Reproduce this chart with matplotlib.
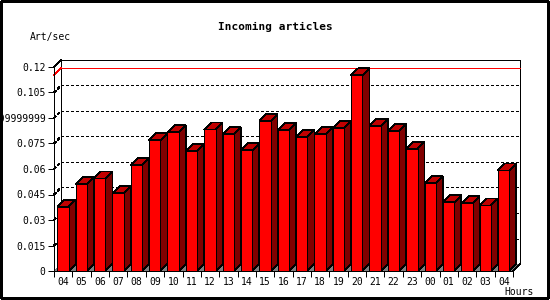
import matplotlib
matplotlib.use("Agg")
import matplotlib.pyplot as plt
from matplotlib.patches import Rectangle, Polygon

# data
hours = ['04', '05', '06', '07', '08', '09', '10', '11', '12', '13', '14', '15', '16',
         '17', '18', '19', '20', '21', '22', '23', '00', '01', '02', '03', '04']
rate = [0.0378, 0.0512, 0.0545, 0.0457, 0.0622, 0.0769, 0.0816, 0.0705, 0.0833,
        0.0804, 0.0710, 0.0882, 0.0829, 0.0788, 0.0804, 0.0841, 0.1151, 0.0853,
        0.0824, 0.0718, 0.0516, 0.0404, 0.0398, 0.0386, 0.0592]
yticks = [0, 0.015, 0.03, 0.045, 0.06, 0.075, 0.09, 0.105, 0.12]
ylabels = ['0', '0.015', '0.03', '0.045', '0.06', '0.075', '0.09999999', '0.105', '0.12']

W, H = 550, 300
mono = 'DejaVu Sans Mono'
plt.rcParams['font.family'] = mono
plt.rcParams['font.size'] = 7
plt.rcParams['lines.scale_dashes'] = False

fig = plt.figure(figsize=(W / 100, H / 100), dpi=100)
ax = fig.add_axes([54 / W, (H - 271) / H, (513 - 54) / W, (271 - 67) / H])
n = len(rate)
ax.set_xlim(0, n)
ax.set_ylim(0, 0.12)
ax.patch.set_visible(False)

# 3d depth, 7 px in both directions
depth = 7
dx = depth * n / ax.bbox.width
dy = depth * 0.12 / ax.bbox.height
lw = 0.72
dots = (0, (1.5, 2.1))

# back wall
ax.add_patch(Rectangle((dx, dy), n, 0.12, fc='white', ec='black', lw=lw,
                       clip_on=False, zorder=0.5, antialiased=False, snap=True))
for t in yticks[1:-1]:
    ax.plot([dx, n + dx], [t + dy, t + dy], color='black', lw=lw, ls=dots,
            clip_on=False, zorder=0.6, antialiased=False, snap=True)
    ax.plot([0, dx], [t, t + dy], color='black', lw=0.5, ls=dots,
            clip_on=False, zorder=0.6, antialiased=False)
# top-left corner
ax.plot([0, dx], [0.12, 0.12 + dy], color='black', lw=0.5, clip_on=False,
        zorder=0.6, antialiased=False)
# max line
m = max(rate)
ax.plot([dx, n + dx], [m + dy, m + dy], color='red', lw=lw,
        clip_on=False, zorder=0.7, antialiased=False, snap=True)
ax.plot([0, dx], [m, m + dy], color='red', lw=0.5,
        clip_on=False, zorder=0.7, antialiased=False)

# floor
ax.add_patch(Polygon([(0, 0), (n, 0), (n + dx, dy), (dx, dy)], closed=True,
                     fc='#808080', ec='none', clip_on=False, zorder=0.8,
                     antialiased=False))
ax.plot([n, n + dx], [0, dy], color='black', lw=0.5, clip_on=False,
        zorder=0.9, antialiased=False)

# bars
for i, v in enumerate(rate):
    x0, x1 = i + 0.18, i + 0.8
    side = Polygon([(x1, 0), (x1 + dx, dy), (x1 + dx, v + dy), (x1, v)],
                   closed=True, fc='#800000', ec='black', lw=0.5, clip_on=False,
                   zorder=1, antialiased=False)
    top = Polygon([(x0, v), (x1, v), (x1 + dx, v + dy), (x0 + dx, v + dy)],
                  closed=True, fc='#c00000', ec='black', lw=0.5, clip_on=False,
                  zorder=1, antialiased=False)
    front = Rectangle((x0, 0), x1 - x0, v, fc='#ff0000', ec='black', lw=lw,
                      clip_on=False, zorder=1.1, antialiased=False, snap=True)
    ax.add_patch(side)
    ax.add_patch(top)
    ax.add_patch(front)

# axes
for s in ['top', 'right']:
    ax.spines[s].set_visible(False)
for s in ['left', 'bottom']:
    ax.spines[s].set_linewidth(lw)
    ax.spines[s].set_antialiased(False)
ax.set_yticks(yticks, ylabels)
ax.set_xticks(range(n + 1), [''] * (n + 1))
ax.set_xticks([i + 0.5 for i in range(n)], hours, minor=True)
ax.tick_params(axis='both', which='major', length=4, width=lw, color='black',
               labelsize=7, pad=2)
ax.tick_params(axis='x', which='minor', length=0, labelsize=7, pad=4)

fig.text(0.5, 1 - 27 / H, 'Incoming articles', ha='center', va='center',
         fontsize=8, fontweight='bold')
fig.text(30 / W, 1 - 37 / H, 'Art/sec', ha='left', va='center', fontsize=7)
fig.text(519 / W, 1 - 292 / H, 'Hours', ha='center', va='center', fontsize=7)

fig.patches.append(Rectangle((1 / W, 2 / H), 547 / W, 297 / H, fill=False,
                             ec='black', lw=1.0, transform=fig.transFigure,
                             antialiased=False, snap=True))

fig.savefig('out.png', dpi=100)
